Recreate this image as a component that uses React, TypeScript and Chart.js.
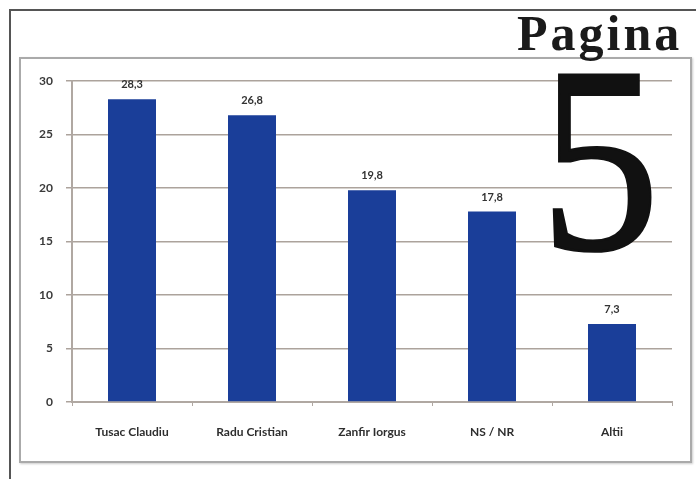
import React, { useEffect, useRef } from "react";
import { Chart, registerables } from "chart.js";

Chart.register(...registerables);

const categories = ["Tusac Claudiu", "Radu Cristian", "Zanfir Iorgus", "NS / NR", "Altii"];
const values = [28.3, 26.8, 19.8, 17.8, 7.3];
const yTicks = [0, 5, 10, 15, 20, 25, 30];

const fmt = (v: number) => v.toFixed(1).replace(".", ",");

const valueLabels = {
  id: "valueLabels",
  afterDatasetsDraw(chart: any) {
    const ctx = chart.ctx;
    const meta = chart.getDatasetMeta(0);
    ctx.save();
    ctx.font = "bold 11px Lato, 'Open Sans', sans-serif";
    ctx.fillStyle = "#333";
    ctx.textAlign = "center";
    ctx.textBaseline = "bottom";
    meta.data.forEach((bar: any, i: number) => {
      ctx.fillText(fmt(values[i]), bar.x, bar.y - 9);
    });
    ctx.restore();
  },
};

export default function App() {
  const ref = useRef<HTMLCanvasElement | null>(null);
  useEffect(() => {
    if (!ref.current) return;
    const chart = new Chart(ref.current, {
      type: "bar",
      data: {
        labels: categories,
        datasets: [
          {
            data: values,
            backgroundColor: "#1a3e99",
            borderWidth: 0,
            categoryPercentage: 1,
            barPercentage: 0.4,
          },
        ],
      },
      options: {
        responsive: false,
        animation: false,
        devicePixelRatio: 1,
        layout: { padding: { left: 0, top: 81, right: 24, bottom: 0 } },
        plugins: { legend: { display: false }, tooltip: { enabled: false } },
        scales: {
          x: {
            grid: { drawOnChartArea: false, drawTicks: true, tickLength: 4, color: "#b0a8a2" },
            border: { color: "#b0a8a2", width: 2 },
            ticks: {
              color: "#2e2e2e",
              font: { family: "Lato, 'Open Sans', sans-serif", size: 12, weight: "bold" },
              padding: 19,
              maxRotation: 0,
              autoSkip: false,
            },
            afterFit: (axis: any) => {
              axis.height = 77;
            },
          },
          y: {
            min: 0,
            max: 30,
            afterBuildTicks: (axis: any) => {
              axis.ticks = yTicks.map((v) => ({ value: v }));
            },
            grid: { color: "#aca39c", lineWidth: 1.5, tickLength: 6 },
            border: { color: "#b0a8a2", width: 2 },
            ticks: {
              color: "#3a3a3a",
              font: { family: "Lato, 'Open Sans', sans-serif", size: 12, weight: "bold" },
              padding: 13,
            },
            afterFit: (axis: any) => {
              axis.width = 72;
            },
          },
        },
      },
      plugins: [valueLabels],
    });
    return () => chart.destroy();
  }, []);

  return (
    <div
      style={{
        position: "fixed",
        left: 0,
        top: 0,
        width: 696,
        height: 479,
        background: "#fff",
        overflow: "hidden",
      }}
    >
      <div
        style={{
          position: "absolute",
          left: 9,
          top: 9,
          width: 700,
          height: 480,
          borderTop: "2px solid #555",
          borderLeft: "2px solid #555",
        }}
      />
      <div
        style={{
          position: "absolute",
          left: 19,
          top: 57,
          width: 669,
          height: 402,
          border: "2px solid #aaa",
          boxShadow: "1px 1px 2px #ccc",
        }}
      />
      <canvas
        ref={ref}
        width={696}
        height={479}
        style={{ position: "absolute", left: 0, top: 0, width: 696, height: 479 }}
      />
      <div
        style={{
          position: "absolute",
          left: 517,
          top: 8,
          fontFamily: "'Liberation Serif', 'DejaVu Serif', serif",
          fontWeight: "bold",
          fontSize: 50,
          lineHeight: "50px",
          letterSpacing: 3,
          color: "#1a1a1a",
          whiteSpace: "nowrap",
        }}
      >
        Pagina
      </div>
      <div
        style={{
          position: "absolute",
          left: 540,
          top: 27,
          fontFamily: "'Liberation Serif', 'DejaVu Serif', serif",
          fontSize: 266,
          lineHeight: "266px",
          color: "#111",
          WebkitTextStroke: "2.5px #111",
          transform: "scaleX(0.9)",
          transformOrigin: "left top",
        }}
      >
        5
      </div>
    </div>
  );
}
